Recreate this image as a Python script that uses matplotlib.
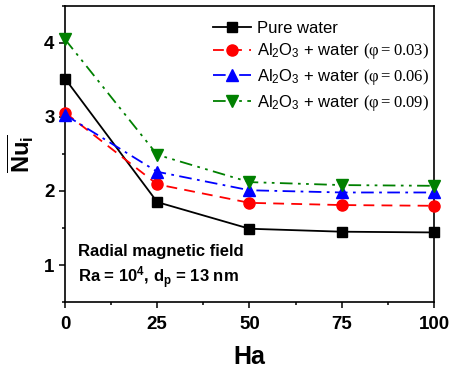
import numpy as np
import matplotlib
matplotlib.use("Agg")
import matplotlib.pyplot as plt
from matplotlib.ticker import MultipleLocator

plt.rcParams['font.family'] = ['Liberation Sans', 'DejaVu Sans']
plt.rcParams['mathtext.fontset'] = 'custom'
plt.rcParams['mathtext.rm'] = 'Liberation Sans'
plt.rcParams['mathtext.it'] = 'Liberation Sans:italic'
plt.rcParams['mathtext.bf'] = 'Liberation Sans:bold'
plt.rcParams['mathtext.sf'] = 'Liberation Serif'

ha = [0, 25, 50, 75, 100]
pure_water = [3.52, 1.85, 1.49, 1.45, 1.44]
phi_003 = [3.06, 2.09, 1.84, 1.81, 1.80]
phi_006 = [3.03, 2.26, 2.01, 1.98, 1.98]
phi_009 = [4.05, 2.49, 2.12, 2.08, 2.07]

labels = [
    "Pure water",
    r"Al$_2$O$_3$ + water $\mathsf{(φ = 0.03)}$",
    r"Al$_2$O$_3$ + water $\mathsf{(φ = 0.06)}$",
    r"Al$_2$O$_3$ + water $\mathsf{(φ = 0.09)}$",
]

fig = plt.figure(figsize=(4.5, 3.74), dpi=100)
ax = fig.add_axes([0.1444, 0.1925, 0.82, 0.7915])

lw = 1.3
ax.plot(ha, pure_water, color="black", ls="-", lw=lw, marker="s", ms=7,
        clip_on=False, zorder=3, label=labels[0])
ax.plot(ha, phi_003, color="red", ls=(0, (6, 4)), lw=lw, marker="o", ms=8,
        clip_on=False, zorder=3, label=labels[1])
ax.plot(ha, phi_006, color="blue", ls=(0, (7, 3, 1.5, 3)), lw=lw, marker="^", ms=8,
        clip_on=False, zorder=3, label=labels[2])
ax.plot(ha, phi_009, color="green", ls=(0, (7, 3, 1.5, 3, 1.5, 3)), lw=lw, marker="v", ms=8,
        clip_on=False, zorder=3, label=labels[3])

ax.set_xlim(0, 100)
ax.set_ylim(0.5, 4.5)
ax.xaxis.set_major_locator(MultipleLocator(25))
ax.xaxis.set_minor_locator(MultipleLocator(12.5))
ax.yaxis.set_major_locator(MultipleLocator(1))
ax.yaxis.set_minor_locator(MultipleLocator(0.5))
ax.tick_params(which="both", direction="out", width=1.1)
ax.tick_params(which="major", length=4, labelsize=13.5)
ax.tick_params(axis="x", which="major", pad=6)
ax.tick_params(which="minor", length=2.5)
for lab in ax.get_xticklabels() + ax.get_yticklabels():
    lab.set_fontweight("bold")
for sp in ax.spines.values():
    sp.set_linewidth(1.2)

ax.set_xlabel("Ha", fontsize=18, fontweight="bold", labelpad=9)
ax.set_ylabel(r"$\overline{\mathbf{Nu}_\mathbf{i}}$", fontsize=17, labelpad=6)

ax.text(0.035, 0.169, "Radial magnetic field", transform=ax.transAxes,
        fontsize=12, fontweight="bold", va="center")
ax.text(0.035, 0.081, r"Ra = 10$^\mathbf{4}$, d$_\mathbf{p}$ = 13 nm", transform=ax.transAxes,
        fontsize=12, fontweight="bold", va="center")

ax.legend(loc="upper right", bbox_to_anchor=(1.019, 0.99), frameon=False, fontsize=12,
          handlelength=2.3, handletextpad=0.35, labelspacing=0.35, borderaxespad=0.3)

fig.savefig("out.png", dpi=100)
